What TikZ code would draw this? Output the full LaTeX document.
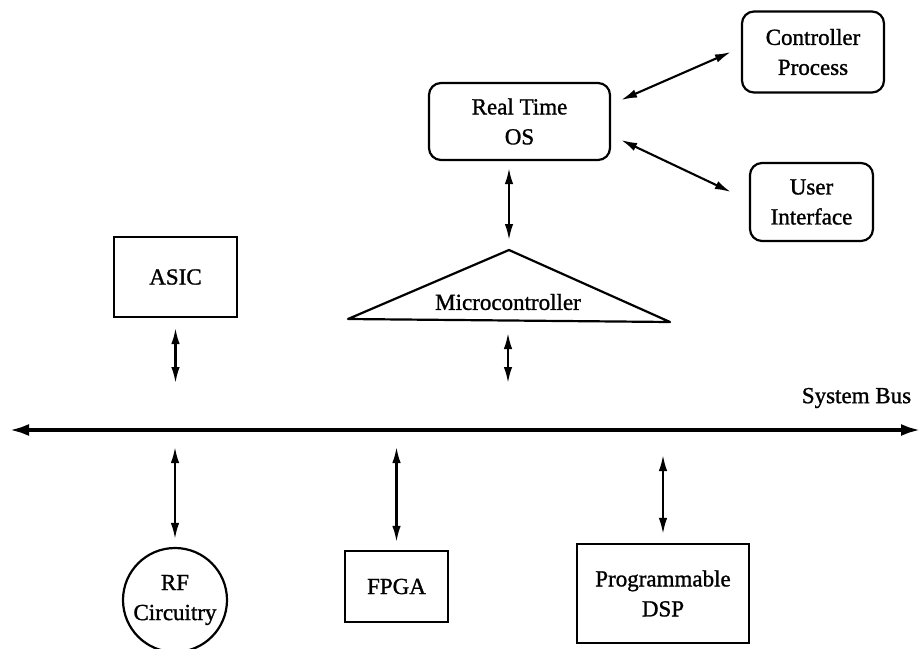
\documentclass[tikz,border=0pt]{standalone}
\usepackage{fontspec}
\setmainfont{Liberation Serif}[FakeBold=1.2]
\usetikzlibrary{arrows.meta,calc}
\begin{document}
\begin{tikzpicture}[x=1pt,y=-1pt,
  font=\fontsize{23}{30}\selectfont,
  every node/.style={align=center,inner sep=0pt,line width=2.2pt},
  soft/.style={draw,rounded corners=12pt},
  blockbox/.style={draw},
  link/.style={line width=2.1pt,{Latex[length=16pt,width=8.5pt]}-{Latex[length=16pt,width=8.5pt]}},
  busline/.style={line width=4.8pt,{Latex[length=20pt,width=12pt]}-{Latex[length=20pt,width=12pt]}}]
\useasboundingbox (0,0) rectangle (920,648);

% upper software layer
\node[soft,minimum width=181pt,minimum height=77pt] (rtos) at (519.5,121.5) {Real Time\\OS};
\node[soft,minimum width=142pt,minimum height=81pt] (ctrl) at (813,52) {Controller\\Process};
\node[soft,minimum width=123pt,minimum height=78pt] (ui) at (811.5,202) {User\\Interface};

% processing blocks above the bus
\node[blockbox,minimum width=123pt,minimum height=80pt] (asic) at (175.5,277) {ASIC};
\coordinate (mcTop) at (509,250);
\coordinate (mcLeft) at (348,319);
\coordinate (mcRight) at (670,322);
\coordinate (mcBase) at (508,320);
\draw[line width=2.2pt,line join=round] (mcTop) -- (mcRight) -- (mcLeft) -- cycle;
\node (micro) at (508,302) {Microcontroller};

% system bus
\coordinate (busL) at (9,430);
\coordinate (busR) at (921,430);
\draw[busline] (busL) -- (busR);
\node (buslabel) at (856.5,398) {System Bus};

% blocks below the bus
\node[draw,circle,minimum size=104pt] (rf) at (175,600) {RF\\Circuitry};
\node[blockbox,minimum width=103pt,minimum height=71pt] (fpga) at (396.5,586.5) {FPGA};
\node[blockbox,minimum width=172pt,minimum height=99pt] (dsp) at (663,593.5) {Programmable\\DSP};

% connectors
\draw[link] ([xshift=10pt,yshift=21.5pt]rtos.east) -- ([xshift=-10pt]ctrl.west);
\draw[link] ([xshift=10pt,yshift=-18.5pt]rtos.east) -- ([xshift=-18pt,yshift=10pt]ui.west);
\draw[link,shorten <=7pt,shorten >=10pt] (rtos.south -| mcTop) -- (mcTop);
\draw[link,shorten <=10pt,shorten >=47pt] (asic.south) -- (asic.south |- busL);
\draw[link,shorten <=13pt,shorten >=47pt] (mcBase) -- (mcBase |- busL);
\draw[link,shorten <=17pt,shorten >=8pt] (rf.north |- busL) -- (rf.north);
\draw[link,shorten <=17pt,shorten >=8pt] (fpga.north |- busL) -- (fpga.north);
\draw[link,shorten <=25pt,shorten >=9pt] (dsp.north |- busL) -- (dsp.north);
\end{tikzpicture}
\end{document}
